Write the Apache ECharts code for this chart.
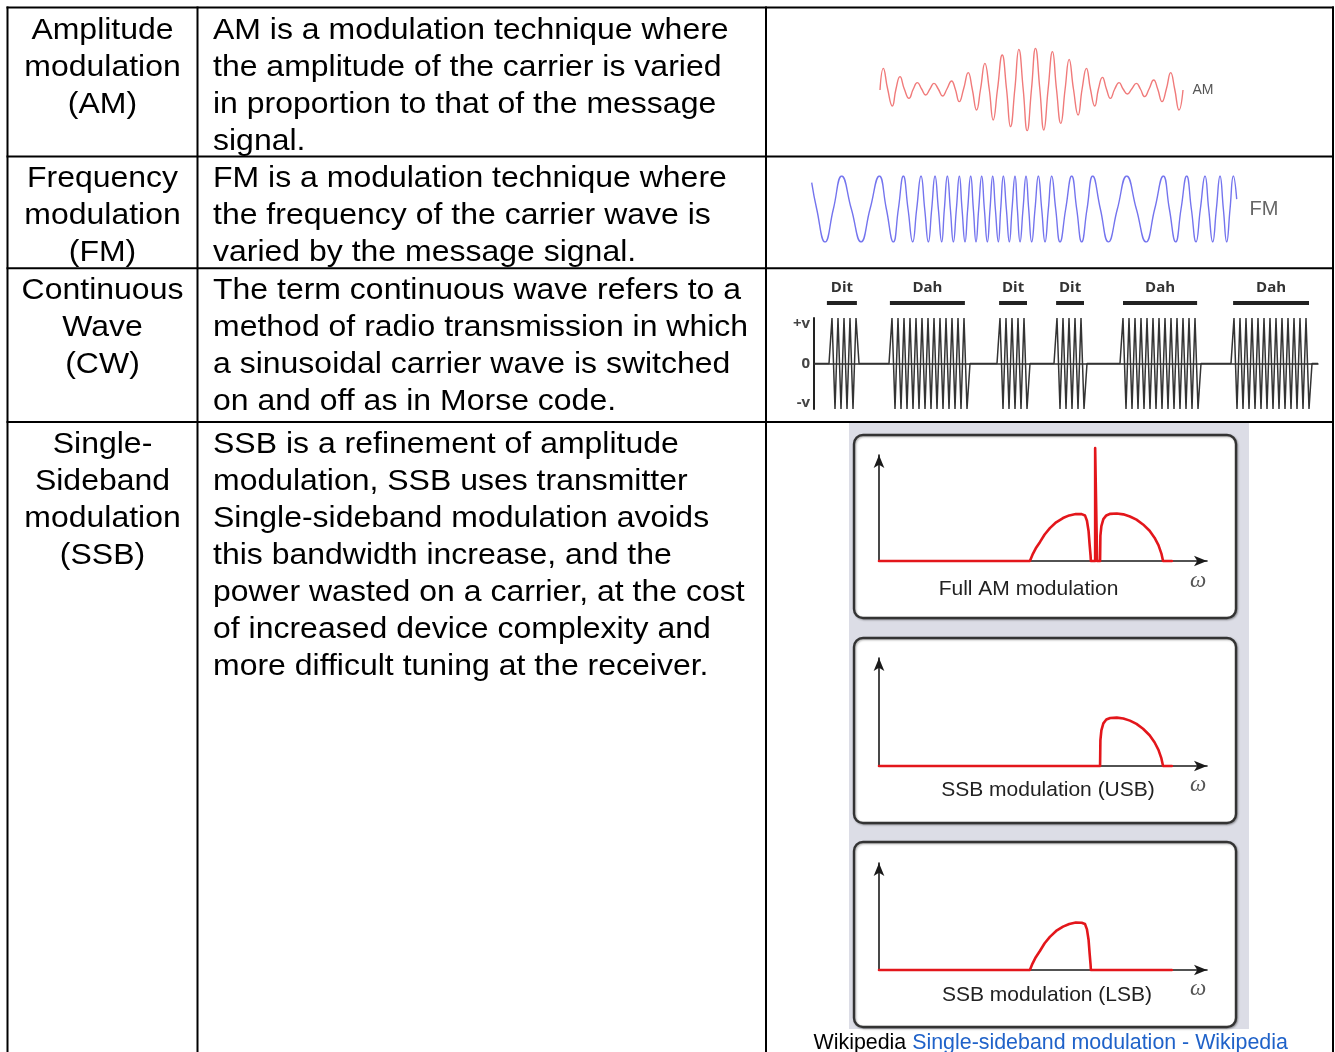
<!DOCTYPE html>
<html>
<head>
<meta charset="utf-8">
<script src="https://cdn.jsdelivr.net/npm/echarts@6/dist/echarts.min.js"></script>
<style>
html,body{margin:0;padding:0;background:#fff;}
#c{width:1335px;height:1052px;}
</style>
</head>
<body>
<div id="c"></div>
<script>
// ---------------- DATA ----------------
const rowNames = [
  ["Amplitude", "modulation", "(AM)"],
  ["Frequency", "modulation", "(FM)"],
  ["Continuous", "Wave", "(CW)"],
  ["Single-", "Sideband", "modulation", "(SSB)"]
];
const rowDescriptions = [
  ["AM is a modulation technique where", "the amplitude of the carrier is varied", "in proportion to that of the message", "signal."],
  ["FM is a modulation technique where", "the frequency of the carrier wave is", "varied by the message signal."],
  ["The term continuous wave refers to a", "method of radio transmission in which", "a sinusoidal carrier wave is switched", "on and off as in Morse code."],
  ["SSB is a refinement of amplitude", "modulation, SSB uses transmitter", "Single-sideband modulation avoids", "this bandwidth increase, and the", "power wasted on a carrier, at the cost", "of increased device complexity and", "more difficult tuning at the receiver."]
];

// AM waveform: times of crests, troughs and zero crossings, with the level there
const amTime = [60, 70, 83, 97, 108, 120, 133, 147, 160, 172, 185, 197, 210, 222, 235, 248, 261, 275, 286, 298, 311, 325, 337, 350, 362, 375, 388, 400, 413, 427, 440, 452, 465, 477, 490, 502, 515, 527, 540, 552, 565, 578, 590, 603, 616, 628, 641, 655, 667, 680, 692, 705, 716, 728, 740, 752, 765, 778, 790, 803, 816, 830, 842, 855, 868, 882, 894, 907, 920, 933, 945, 958, 970];
const amLevel = [-3, 62, 0, -51, 0, 37, 0, -28, 0, 19, 0, -18, 0, 17, 0, -21, 0, 24, 0, -38, 0, 49, 0, -63, 0, 77, 0, -93, 0, 102, 0, -113, 0, 119, 0, -125, 0, 122, 0, -123, 0, 112, 0, -103, 0, 89, 0, -78, 0, 62, 0, -51, 0, 35, 0, -28, 0, 19, 0, -15, 0, 17, 0, -23, 0, 27, 0, -38, 0, 49, 0, -63, -3];

// FM waveform: times of crests, troughs and zero crossings (constant amplitude)
const fmTime = [65, 80, 105, 130, 155, 184, 213, 240, 268, 289, 310, 325, 340, 354, 368, 380, 393, 404, 415, 425, 435, 445, 455, 463, 472, 481, 490, 499, 508, 516, 525, 533, 542, 550, 558, 566, 575, 583, 592, 600, 608, 616, 625, 632, 640, 649, 658, 666, 675, 682, 690, 699, 708, 716, 725, 735, 745, 755, 765, 775, 785, 797, 810, 827, 845, 860, 875, 891, 908, 931, 955, 982, 1010, 1039, 1068, 1094, 1120, 1138, 1157, 1173, 1190, 1204, 1218, 1231, 1245, 1256, 1268, 1279, 1290, 1300, 1310, 1320, 1330, 1340];
const fmLevel = [0.8, 0, -1, 0, 1, 0, -1, 0, 1, 0, -1, 0, 1, 0, -1, 0, 1, 0, -1, 0, 1, 0, -1, 0, 1, 0, -1, 0, 1, 0, -1, 0, 1, 0, -1, 0, 1, 0, -1, 0, 1, 0, -1, 0, 1, 0, -1, 0, 1, 0, -1, 0, 1, 0, -1, 0, 1, 0, -1, 0, 1, 0, -1, 0, 1, 0, -1, 0, 1, 0, -1, 0, 1, 0, -1, 0, 1, 0, -1, 0, 1, 0, -1, 0, 1, 0, -1, 0, 1, 0, -1, 0, 1, 0.3];

// CW (Morse) signal, one value per half carrier cycle
const cwLevel = [
  0, 0, 0, 0, 0, 0,
  1, -1, 1, -1, 1, -1, 1, -1, 1,
  0, 0, 0, 0, 0, 0, 0, 0, 0, 0, 0,
  1, -1, 1, -1, 1, -1, 1, -1, 1, -1, 1, -1, 1, -1, 1, -1, 1, -1, 1, -1, 1, -1, 1, -1, 1, -1,
  0, 0, 0, 0, 0, 0, 0, 0, 0, 0,
  1, -1, 1, -1, 1, -1, 1, -1, 1, -1,
  0, 0, 0, 0, 0, 0, 0, 0, 0,
  1, -1, 1, -1, 1, -1, 1, -1, 1, -1,
  0, 0, 0, 0, 0, 0, 0, 0, 0, 0, 0, 0,
  1, -1, 1, -1, 1, -1, 1, -1, 1, -1, 1, -1, 1, -1, 1, -1, 1, -1, 1, -1, 1, -1, 1, -1, 1, -1,
  0, 0, 0, 0, 0, 0, 0, 0, 0, 0, 0,
  1, -1, 1, -1, 1, -1, 1, -1, 1, -1, 1, -1, 1, -1, 1, -1, 1, -1, 1, -1, 1, -1, 1, -1, 1, -1,
  0, 0, 0
];
const morseLabels = ["Dit", "Dah", "Dit", "Dit", "Dah", "Dah"];
const morseStart = [4.3, 25.3, 61.7, 80.7, 103, 139.7];
const morseEnd = [14.3, 50.3, 71, 90, 127.7, 165];
const cwTickLabels = ["+v", "0", "-v"];

// SSB spectra  [frequency, amplitude]
const lowerSideband = [[46,0],[46.8,6],[47.8,12],[49.1,18],[50.5,25],[52.1,31],[54,36.5],[56.1,40.5],[58,43],[60,44.3],[61.8,44.2],[62.8,43],[63.4,38],[63.9,28],[64.2,16],[64.5,5],[64.6,0]];
const carrierLine = [[65.9,0],[65.9,106.6],[66.5,106.6],[66.5,0]];
const upperSideband = [[67.4,0],[67.45,12],[67.5,24],[67.8,33],[68.4,39.5],[69.3,43],[70.5,44.5],[72.5,44.8],[74.5,44],[76.5,42],[78.5,39],[80.5,34.5],[82.5,28.5],[84,22],[85.2,15],[86.1,7],[86.6,0]];
const spectrumStart = [0, 0];
const spectrumEnd = [89.3, 0];
const spectrumTitles = ["Full AM modulation", "SSB modulation (USB)", "SSB modulation (LSB)"];

// ---------------- BUILD ----------------
const TXT_FONT = '"Liberation Sans", Arial, sans-serif';
const FS = 29, SX = 1.103, LH = 37;
const rowFirstLineY = [31.3, 179, 291, 445];
const graphics = [];

function addText(x, y, str, align) {
  graphics.push({
    type: 'text', x: x, y: y, scaleX: SX, z: 10,
    style: { text: str, fill: '#000', font: FS + 'px ' + TXT_FONT,
      align: align, textAlign: align, verticalAlign: 'middle', textVerticalAlign: 'middle' }
  });
}
function addLine(x1, y1, x2, y2) {
  graphics.push({ type: 'line', z: 10, shape: { x1: x1, y1: y1, x2: x2, y2: y2 },
    style: { stroke: '#000', lineWidth: 2 } });
}

// SSB image background and boxes
graphics.push({ type: 'rect', z: -2, shape: { x: 849, y: 423, width: 400, height: 606 }, style: { fill: '#dcdde6' } });
const boxTops = [435, 638, 842], boxHeights = [183, 185, 185];
for (let i = 0; i < 3; i++) {
  graphics.push({ type: 'rect', z: -1, shape: { x: 854, y: boxTops[i], width: 382, height: boxHeights[i], r: 9 },
    style: { fill: '#fff', stroke: '#333', lineWidth: 2.4, shadowColor: 'rgba(0,0,0,0.3)', shadowBlur: 2, shadowOffsetX: 1, shadowOffsetY: 1 } });
}
const titleY = [589.4, 790.7, 995.7], titleX = [1028.5, 1048, 1047];
const omegaY = [581, 785, 989];
for (let i = 0; i < 3; i++) {
  graphics.push({ type: 'text', z: 10, x: titleX[i], y: titleY[i],
    style: { text: spectrumTitles[i], fill: '#222', font: '21px ' + TXT_FONT, align: 'center', textAlign: 'center', verticalAlign: 'middle', textVerticalAlign: 'middle' } });
  graphics.push({ type: 'text', z: 10, x: 1198, y: omegaY[i],
    style: { text: 'ω', fill: '#555', font: 'italic 23px "Liberation Serif", serif', align: 'center', textAlign: 'center', verticalAlign: 'middle', textVerticalAlign: 'middle' } });
}

// image labels
graphics.push({ type: 'text', z: 10, x: 1203, y: 90, style: { text: 'AM', fill: '#555', font: '14px ' + TXT_FONT, align: 'center', textAlign: 'center', verticalAlign: 'middle', textVerticalAlign: 'middle' } });
graphics.push({ type: 'text', z: 10, x: 1264, y: 209, style: { text: 'FM', fill: '#666', font: '20px ' + TXT_FONT, align: 'center', textAlign: 'center', verticalAlign: 'middle', textVerticalAlign: 'middle' } });

// caption
graphics.push({ type: 'text', z: 10, x: 813.5, y: 1043,
  style: { text: '{a|Wikipedia }{b|Single-sideband modulation - Wikipedia}', font: '21.4px ' + TXT_FONT,
    align: 'left', textAlign: 'left', verticalAlign: 'middle', textVerticalAlign: 'middle',
    rich: { a: { fill: '#000', color: '#000', font: '21.4px ' + TXT_FONT }, b: { fill: '#1f62c9', color: '#1f62c9', font: '21.4px ' + TXT_FONT } } } });

// table text
for (let r = 0; r < rowNames.length; r++) {
  rowNames[r].forEach((s, k) => addText(102.5, rowFirstLineY[r] + k * LH, s, 'center'));
  rowDescriptions[r].forEach((s, k) => addText(213, rowFirstLineY[r] + k * LH, s, 'left'));
}
// table lines
addLine(6.5, 7.5, 1334, 7.5);
addLine(7.5, 6.5, 7.5, 1052);
addLine(197.5, 6.5, 197.5, 1052);
addLine(766, 6.5, 766, 1052);
addLine(1333, 6.5, 1333, 1052);
addLine(6.5, 156.5, 1334, 156.5);
addLine(6.5, 268.3, 1334, 268.3);
addLine(6.5, 422, 1334, 422);

// ---------------- CHART ----------------
const hidden = { show: false };
function plainAxis(idx, min, max, extra) {
  return Object.assign({ type: 'value', gridIndex: idx, min: min, max: max,
    axisLine: hidden, axisTick: hidden, axisLabel: hidden, splitLine: hidden }, extra || {});
}
const arrowAxisLine = { show: true, onZero: false, symbol: ['none', 'arrow'], symbolSize: [8, 13], symbolOffset: [0, 0],
  lineStyle: { color: '#1a1a1a', width: 1.6 } };

const specGrids = [
  { left: 879, top: 455, width: 328, height: 106 },
  { left: 879, top: 658, width: 328, height: 108 },
  { left: 879, top: 863, width: 328, height: 107 }
];
const spectra = [
  [spectrumStart].concat(lowerSideband, carrierLine, upperSideband, [spectrumEnd]),
  [spectrumStart].concat(upperSideband, [spectrumEnd]),
  [spectrumStart].concat(lowerSideband, [spectrumEnd])
];

const option = {
  animation: false,
  backgroundColor: '#fff',
  graphic: { elements: graphics },
  grid: [
    { left: 880, top: 44, width: 303, height: 90 },
    { left: 811.7, top: 176, width: 425, height: 66 },
    { left: 814, top: 318, width: 504, height: 91 }
  ].concat(specGrids),
  xAxis: [
    plainAxis(0, 60, 970),
    plainAxis(1, 65, 1340),
    plainAxis(2, 0, 168, { axisLine: { show: true, onZero: true, lineStyle: { color: '#333', width: 1.5 } } }),
    plainAxis(3, 0, 100, { axisLine: arrowAxisLine, z: 3 }),
    plainAxis(4, 0, 100, { axisLine: arrowAxisLine, z: 3 }),
    plainAxis(5, 0, 100, { axisLine: arrowAxisLine, z: 3 })
  ],
  yAxis: [
    plainAxis(0, -135, 135),
    plainAxis(1, -1, 1),
    plainAxis(2, -1, 1, {
      axisLine: { show: true, onZero: false, lineStyle: { color: '#222', width: 2 } },
      axisLabel: { show: true, customValues: [0.87, 0, -0.87], margin: 4, color: '#444',
        fontSize: 15, fontWeight: 'bold', fontFamily: '"Open Sans", sans-serif',
        formatter: v => v > 0 ? cwTickLabels[0] : (v < 0 ? cwTickLabels[2] : cwTickLabels[1]) }
    }),
    plainAxis(3, 0, 100, { axisLine: arrowAxisLine, z: 3 }),
    plainAxis(4, 0, 100, { axisLine: arrowAxisLine, z: 3 }),
    plainAxis(5, 0, 100, { axisLine: arrowAxisLine, z: 3 })
  ],
  series: [
    { type: 'line', xAxisIndex: 0, yAxisIndex: 0, data: amTime.map((t, i) => [t, amLevel[i]]),
      smooth: 0.5, showSymbol: false, lineStyle: { color: '#f07a7a', width: 1.4 } },
    { type: 'line', xAxisIndex: 1, yAxisIndex: 1, data: fmTime.map((t, i) => [t, fmLevel[i]]),
      smooth: 0.5, showSymbol: false, lineStyle: { color: '#7474ee', width: 1.4 } },
    { type: 'line', xAxisIndex: 2, yAxisIndex: 2, data: cwLevel.map((v, i) => [i, v]),
      showSymbol: false, lineStyle: { color: '#333', width: 1.5 } },
    { type: 'custom', xAxisIndex: 2, yAxisIndex: 2, clip: false,
      data: morseStart.map((s, i) => [s, morseEnd[i]]),
      renderItem: function (params, api) {
        const a = api.coord([api.value(0), 1]);
        const b = api.coord([api.value(1), 1]);
        return { type: 'group', children: [
          { type: 'rect', shape: { x: a[0], y: a[1] - 17, width: b[0] - a[0], height: 4 }, style: { fill: '#222' } },
          { type: 'text', x: (a[0] + b[0]) / 2, y: a[1] - 30,
            style: { text: morseLabels[params.dataIndex], fill: '#333', font: 'bold 15px "Open Sans", sans-serif', align: 'center', verticalAlign: 'middle' } }
        ] };
      } }
  ].concat(spectra.map((d, i) => ({
    type: 'line', xAxisIndex: 3 + i, yAxisIndex: 3 + i, data: d, clip: false, z: 5,
    showSymbol: false, smooth: false, lineStyle: { color: '#e3161b', width: 2.6, cap: 'round', join: 'round' }
  })))
};

const chart = echarts.init(document.getElementById('c'), null, { renderer: 'canvas', width: 1335, height: 1052 });
chart.setOption(option);
</script>
</body>
</html>
